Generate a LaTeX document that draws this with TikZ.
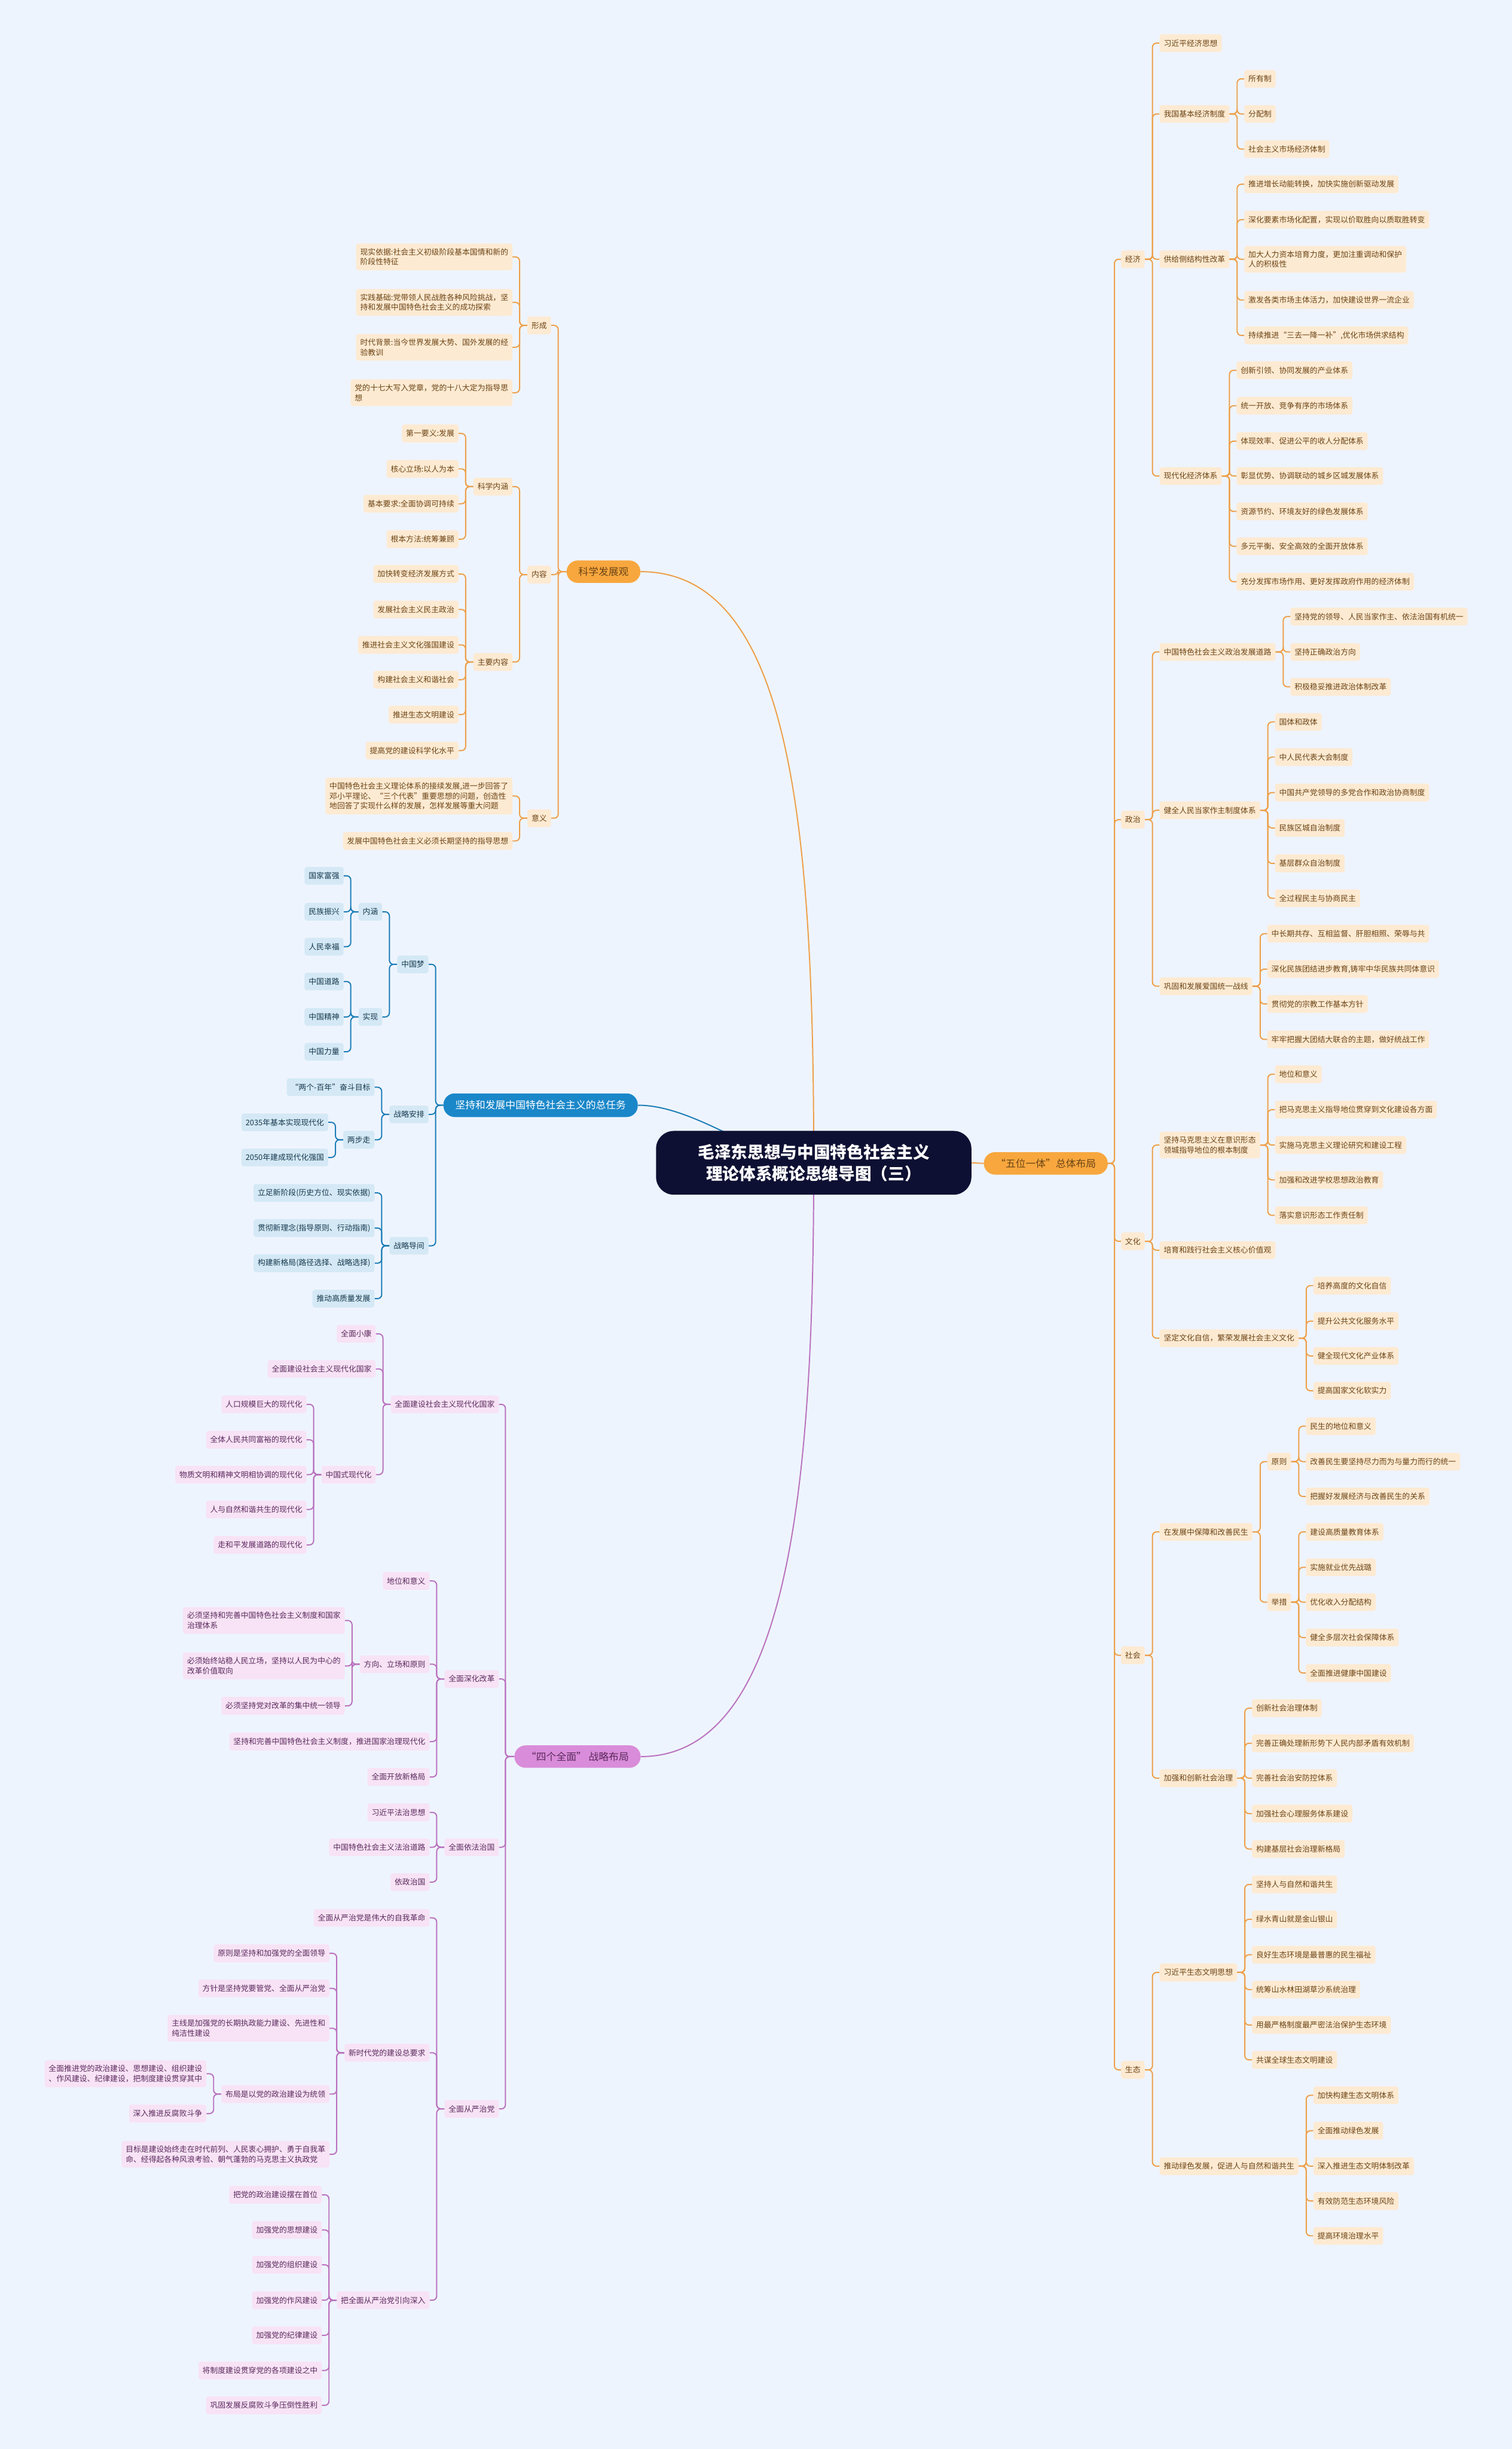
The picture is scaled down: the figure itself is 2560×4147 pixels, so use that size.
\documentclass[tikz,border=0pt]{standalone}
\usepackage{fontspec}
\setmainfont{Noto Sans CJK SC}
\usetikzlibrary{positioning}

\definecolor{bgcol}{HTML}{EEF4FE}
\definecolor{orgline}{HTML}{EDA04A}
\definecolor{orgfill}{HTML}{FDEAD2}
\definecolor{orgtext}{HTML}{6B4415}
\definecolor{orgmain}{HTML}{F8A73E}
\definecolor{blueline}{HTML}{1C7DB6}
\definecolor{bluefill}{HTML}{D4E9F5}
\definecolor{bluetext}{HTML}{17384E}
\definecolor{bluemain}{HTML}{1A87C9}
\definecolor{purline}{HTML}{BA72BE}
\definecolor{purfill}{HTML}{F7E3F5}
\definecolor{purtext}{HTML}{5B2A5E}
\definecolor{purmain}{HTML}{D98CD9}
\definecolor{titlecol}{HTML}{0E1033}

\pgfdeclarelayer{bg}
\pgfsetlayers{bg,main}

\begin{document}
\begin{tikzpicture}[x=1pt,y=-1pt]
	\tikzset{leaf/.style = {rounded corners=4pt, inner xsep=7pt, inner ysep=8pt, minimum height=30pt, align=left, font=\fontsize{13}{17}\selectfont}}
	\tikzset{oleaf/.style = {leaf, fill=orgfill, text=orgtext}}
	\tikzset{bleaf/.style = {leaf, fill=bluefill, text=bluetext}}
	\tikzset{pleaf/.style = {leaf, fill=purfill, text=purtext}}
	\tikzset{topic/.style = {rounded corners=19pt, inner xsep=20pt, minimum height=38pt, font=\fontsize{17}{20}\selectfont}}
	\tikzset{olink/.style = {draw=orgline, line width=2pt, rounded corners=7pt}}
	\tikzset{blink/.style = {draw=blueline, line width=2pt, rounded corners=7pt}}
	\tikzset{plink/.style = {draw=purline, line width=2pt, rounded corners=7pt}}

	\useasboundingbox (0,0) rectangle (2560,4147);

	\node[fill=titlecol, text=white, rounded corners=30pt, minimum width=534pt, minimum height=108pt, align=center, font=\fontsize{28}{37}\selectfont\bfseries] (title) at (1378,1969) {毛泽东思想与中国特色社会主义\\理论体系概论思维导图（三）};

	\node[topic, fill=orgmain, text=orgtext] (wt) at (1771,1970) {“五位一体”总体布局};
	\node[topic, fill=orgmain, text=orgtext] (ks) at (1022,968) {科学发展观};
	\node[topic, fill=bluemain, text=white, minimum height=40pt] (zr) at (915.5,1871.5) {坚持和发展中国特色社会主义的总任务};
	\node[topic, fill=purmain, text=purtext] (sq) at (978,2974.5) {“四个全面” 战略布局};

	% five-in-one
	\node[oleaf, right=22pt of wt, yshift=1531pt] (jj) {经济};
	\node[oleaf, right=22pt of wt, yshift=582pt] (zz) {政治};
	\node[oleaf, right=22pt of wt, yshift=-132pt] (wh) {文化};
	\node[oleaf, right=22pt of wt, yshift=-833pt] (sh) {社会};
	\node[oleaf, right=22pt of wt, yshift=-1535pt] (st) {生态};

	\node[oleaf, right=25pt of jj, yshift=366pt] (jj_1) {习近平经济思想};
	\node[oleaf, right=25pt of jj, yshift=246pt] (jj_2) {我国基本经济制度};
	\node[oleaf, right=25pt of jj] (jj_3) {供给侧结构性改革};
	\node[oleaf, right=25pt of jj, yshift=-367pt] (jj_4) {现代化经济体系};

	\node[oleaf, right=25pt of jj_2, yshift=59.5pt] (jj_2_1) {所有制};
	\node[oleaf, right=25pt of jj_2] (jj_2_2) {分配制};
	\node[oleaf, right=25pt of jj_2, yshift=-59.5pt] (jj_2_3) {社会主义市场经济体制};

	\node[oleaf, right=25pt of jj_3, yshift=127pt] (jj_3_1) {推进增长动能转换，加快实施创新驱动发展};
	\node[oleaf, right=25pt of jj_3, yshift=67pt] (jj_3_2) {深化要素市场化配置，实现以价取胜向以质取胜转变};
	\node[oleaf, right=25pt of jj_3] (jj_3_3) {加大人力资本培育力度，更加注重调动和保护\\人的积极性};
	\node[oleaf, right=25pt of jj_3, yshift=-69pt] (jj_3_4) {激发各类市场主体活力，加快建设世界一流企业};
	\node[oleaf, right=25pt of jj_3, yshift=-129pt] (jj_3_5) {持续推进“三去一降一补”,优化市场供求结构};

	\node[oleaf, right=25pt of jj_4, yshift=179pt] (jj_4_1) {创新引领、协同发展的产业体系};
	\node[oleaf, right=25pt of jj_4, yshift=119pt] (jj_4_2) {统一开放、竞争有序的市场体系};
	\node[oleaf, right=25pt of jj_4, yshift=59pt] (jj_4_3) {体现效率、促进公平的收人分配体系};
	\node[oleaf, right=25pt of jj_4] (jj_4_4) {彰显优势、协调联动的城乡区城发展体系};
	\node[oleaf, right=25pt of jj_4, yshift=-60pt] (jj_4_5) {资源节约、环境友好的绿色发展体系};
	\node[oleaf, right=25pt of jj_4, yshift=-119pt] (jj_4_6) {多元平衡、安全高效的全面开放体系};
	\node[oleaf, right=25pt of jj_4, yshift=-179pt] (jj_4_7) {充分发挥市场作用、更好发挥政府作用的经济体制};

	\node[oleaf, right=25pt of zz, yshift=284pt] (zz_1) {中国特色社会主义政治发展道路};
	\node[oleaf, right=25pt of zz, yshift=16pt] (zz_2) {健全人民当家作主制度体系};
	\node[oleaf, right=25pt of zz, yshift=-282pt] (zz_3) {巩固和发展爱国统一战线};

	\node[oleaf, right=25pt of zz_1, yshift=60pt] (zz_1_1) {坚持党的领导、人民当家作主、依法治国有机统一};
	\node[oleaf, right=25pt of zz_1] (zz_1_2) {坚持正确政治方向};
	\node[oleaf, right=25pt of zz_1, yshift=-59pt] (zz_1_3) {积极稳妥推进政治体制改革};

	\node[oleaf, right=25pt of zz_2, yshift=149.5pt] (zz_2_1) {国体和政体};
	\node[oleaf, right=25pt of zz_2, yshift=90pt] (zz_2_2) {中人民代表大会制度};
	\node[oleaf, right=25pt of zz_2, yshift=30pt] (zz_2_3) {中国共产党领导的多党合作和政治协商制度};
	\node[oleaf, right=25pt of zz_2, yshift=-30pt] (zz_2_4) {民族区城自治制度};
	\node[oleaf, right=25pt of zz_2, yshift=-90pt] (zz_2_5) {基层群众自治制度};
	\node[oleaf, right=25pt of zz_2, yshift=-149pt] (zz_2_6) {全过程民主与协商民主};

	\node[oleaf, right=25pt of zz_3, yshift=89pt] (zz_3_1) {中长期共存、互相监督、肝胆相照、荣辱与共};
	\node[oleaf, right=25pt of zz_3, yshift=29pt] (zz_3_2) {深化民族团结进步教育,铸牢中华民族共同体意识};
	\node[oleaf, right=25pt of zz_3, yshift=-30pt] (zz_3_3) {贯彻党的宗教工作基本方针};
	\node[oleaf, right=25pt of zz_3, yshift=-90pt] (zz_3_4) {牢牢把握大团结大联合的主题，做好统战工作};

	\node[oleaf, right=25pt of wh, yshift=163pt] (wh_1) {坚持马克思主义在意识形态\\领城指导地位的根本制度};
	\node[oleaf, right=25pt of wh, yshift=-15pt] (wh_2) {培育和践行社会主义核心价值观};
	\node[oleaf, right=25pt of wh, yshift=-164pt] (wh_3) {坚定文化自信，繁荣发展社会主义文化};

	\node[oleaf, right=25pt of wh_1, yshift=120pt] (wh_1_1) {地位和意义};
	\node[oleaf, right=25pt of wh_1, yshift=60pt] (wh_1_2) {把马克思主义指导地位贯穿到文化建设各方面};
	\node[oleaf, right=25pt of wh_1] (wh_1_3) {实施马克思主义理论研究和建设工程};
	\node[oleaf, right=25pt of wh_1, yshift=-59pt] (wh_1_4) {加强和改进学校思想政治教育};
	\node[oleaf, right=25pt of wh_1, yshift=-119pt] (wh_1_5) {落实意识形态工作责任制};

	\node[oleaf, right=25pt of wh_3, yshift=89pt] (wh_3_1) {培养高度的文化自信};
	\node[oleaf, right=25pt of wh_3, yshift=29pt] (wh_3_2) {提升公共文化服务水平};
	\node[oleaf, right=25pt of wh_3, yshift=-30pt] (wh_3_3) {健全现代文化产业体系};
	\node[oleaf, right=25pt of wh_3, yshift=-89pt] (wh_3_4) {提高国家文化软实力};

	\node[oleaf, right=25pt of sh, yshift=209pt] (sh_1) {在发展中保障和改善民生};
	\node[oleaf, right=25pt of sh, yshift=-208pt] (sh_2) {加强和创新社会治理};

	\node[oleaf, right=25pt of sh_1, yshift=119pt] (sh_1_1) {原则};
	\node[oleaf, right=25pt of sh_1, yshift=-119pt] (sh_1_2) {举措};

	\node[oleaf, right=25pt of sh_1_1, yshift=60pt] (sh_1_1_1) {民生的地位和意义};
	\node[oleaf, right=25pt of sh_1_1] (sh_1_1_2) {改善民生要坚持尽力而为与量力而行的统一};
	\node[oleaf, right=25pt of sh_1_1, yshift=-59pt] (sh_1_1_3) {把握好发展经济与改善民生的关系};

	\node[oleaf, right=25pt of sh_1_2, yshift=119pt] (sh_1_2_1) {建设高质量教育体系};
	\node[oleaf, right=25pt of sh_1_2, yshift=59pt] (sh_1_2_2) {实施就业优先战璐};
	\node[oleaf, right=25pt of sh_1_2] (sh_1_2_3) {优化收入分配结构};
	\node[oleaf, right=25pt of sh_1_2, yshift=-60pt] (sh_1_2_4) {健全多层次社会保障体系};
	\node[oleaf, right=25pt of sh_1_2, yshift=-120pt] (sh_1_2_5) {全面推进健康中国建设};

	\node[oleaf, right=25pt of sh_2, yshift=118.5pt] (sh_2_1) {创新社会治理体制};
	\node[oleaf, right=25pt of sh_2, yshift=59pt] (sh_2_2) {完善正确处理新形势下人民内部矛盾有效机制};
	\node[oleaf, right=25pt of sh_2] (sh_2_3) {完善社会治安防控体系};
	\node[oleaf, right=25pt of sh_2, yshift=-60pt] (sh_2_4) {加强社会心理服务体系建设};
	\node[oleaf, right=25pt of sh_2, yshift=-120pt] (sh_2_5) {构建基层社会治理新格局};

	\node[oleaf, right=25pt of st, yshift=165pt] (st_1) {习近平生态文明思想};
	\node[oleaf, right=25pt of st, yshift=-163pt] (st_2) {推动绿色发展，促进人与自然和谐共生};

	\node[oleaf, right=25pt of st_1, yshift=149pt] (st_1_1) {坚持人与自然和谐共生};
	\node[oleaf, right=25pt of st_1, yshift=90pt] (st_1_2) {绿水青山就是金山银山};
	\node[oleaf, right=25pt of st_1, yshift=30pt] (st_1_3) {良好生态环境是最普惠的民生福祉};
	\node[oleaf, right=25pt of st_1, yshift=-29pt] (st_1_4) {统筹山水林田湖草沙系统治理};
	\node[oleaf, right=25pt of st_1, yshift=-89pt] (st_1_5) {用最严格制度最严密法治保护生态环境};
	\node[oleaf, right=25pt of st_1, yshift=-148pt] (st_1_6) {共谋全球生态文明建设};

	\node[oleaf, right=25pt of st_2, yshift=120pt] (st_2_1) {加快构建生态文明体系};
	\node[oleaf, right=25pt of st_2, yshift=60pt] (st_2_2) {全面推动绿色发展};
	\node[oleaf, right=25pt of st_2] (st_2_3) {深入推进生态文明体制改革};
	\node[oleaf, right=25pt of st_2, yshift=-59pt] (st_2_4) {有效防范生态环境风险};
	\node[oleaf, right=25pt of st_2, yshift=-118pt] (st_2_5) {提高环境治理水平};

	% scientific outlook
	\node[oleaf, left=26pt of ks, yshift=417pt] (xc) {形成};
	\node[oleaf, left=26pt of ks, yshift=-5pt] (nr) {内容};
	\node[oleaf, left=26pt of ks, yshift=-417.5pt] (yy) {意义};

	\node[oleaf, left=25pt of xc, yshift=116pt] (xc_1) {现实依据:社会主义初级阶段基本国情和新的\\阶段性特征};
	\node[oleaf, left=25pt of xc, yshift=39pt] (xc_2) {实践基础:党带领人民战胜各种风险挑战，坚\\持和发展中国特色社会主义的成功探索};
	\node[oleaf, left=25pt of xc, yshift=-37pt] (xc_3) {时代背景:当今世界发展大势、国外发展的经\\验教训};
	\node[oleaf, left=25pt of xc, yshift=-114pt] (xc_4) {党的十七大写入党章，党的十八大定为指导思\\想};

	\node[oleaf, left=25pt of nr, yshift=149pt] (nr_1) {科学内涵};
	\node[oleaf, left=25pt of nr, yshift=-148pt] (nr_2) {主要内容};

	\node[oleaf, left=25pt of nr_1, yshift=90pt] (nr_1_1) {第一要义:发展};
	\node[oleaf, left=25pt of nr_1, yshift=30pt] (nr_1_2) {核心立场:以人为本};
	\node[oleaf, left=25pt of nr_1, yshift=-29pt] (nr_1_3) {基本要求:全面协调可持续};
	\node[oleaf, left=25pt of nr_1, yshift=-89pt] (nr_1_4) {根本方法:统筹兼顾};

	\node[oleaf, left=25pt of nr_2, yshift=149pt] (nr_2_1) {加快转变经济发展方式};
	\node[oleaf, left=25pt of nr_2, yshift=89pt] (nr_2_2) {发展社会主义民主政治};
	\node[oleaf, left=25pt of nr_2, yshift=29pt] (nr_2_3) {推进社会主义文化强国建设};
	\node[oleaf, left=25pt of nr_2, yshift=-30pt] (nr_2_4) {构建社会主义和谐社会};
	\node[oleaf, left=25pt of nr_2, yshift=-89pt] (nr_2_5) {推进生态文明建设};
	\node[oleaf, left=25pt of nr_2, yshift=-150pt] (nr_2_6) {提高党的建设科学化水平};

	\node[oleaf, left=25pt of yy, yshift=37.5pt] (yy_1) {中国特色社会主义理论体系的接续发展,进一步回答了\\邓小平理论、“三个代表”重要思想的问题，创造性\\地回答了实现什么样的发展，怎样发展等重大问题};
	\node[oleaf, left=25pt of yy, yshift=-38.5pt] (yy_2) {发展中国特色社会主义必须长期坚持的指导思想};

	% general task
	\node[bleaf, left=25pt of zr, yshift=238.5pt] (zm) {中国梦};
	\node[bleaf, left=25pt of zr, yshift=-15.5pt] (za) {战略安排};
	\node[bleaf, left=25pt of zr, yshift=-238pt] (zd) {战略导间};

	\node[bleaf, left=25pt of zm, yshift=89pt] (zm_1) {内涵};
	\node[bleaf, left=25pt of zm, yshift=-89pt] (zm_2) {实现};

	\node[bleaf, left=25pt of zm_1, yshift=61pt] (zm_1_1) {国家富强};
	\node[bleaf, left=25pt of zm_1] (zm_1_2) {民族振兴};
	\node[bleaf, left=25pt of zm_1, yshift=-59pt] (zm_1_3) {人民幸福};

	\node[bleaf, left=25pt of zm_2, yshift=60pt] (zm_2_1) {中国道路};
	\node[bleaf, left=25pt of zm_2] (zm_2_2) {中国精神};
	\node[bleaf, left=25pt of zm_2, yshift=-59pt] (zm_2_3) {中国力量};

	\node[bleaf, left=25pt of za, yshift=46pt] (za_1) {“两个-百年”奋斗目标};
	\node[bleaf, left=25pt of za, yshift=-43pt] (za_2) {两步走};

	\node[bleaf, left=25pt of za_2, yshift=29.5pt] (za_2_1) {2035年基本实现现代化};
	\node[bleaf, left=25pt of za_2, yshift=-30pt] (za_2_2) {2050年建成现代化强国};

	\node[bleaf, left=25pt of zd, yshift=89.5pt] (zd_1) {立足新阶段(历史方位、现实依据)};
	\node[bleaf, left=25pt of zd, yshift=30pt] (zd_2) {贯彻新理念(指导原则、行动指南)};
	\node[bleaf, left=25pt of zd, yshift=-29.5pt] (zd_3) {构建新格局(路径选择、战略选择)};
	\node[bleaf, left=25pt of zd, yshift=-89.5pt] (zd_4) {推动高质量发展};

	% four comprehensives
	\node[pleaf, left=26pt of sq, yshift=596.5pt] (qj) {全面建设社会主义现代化国家};
	\node[pleaf, left=26pt of sq, yshift=131.5pt] (qs) {全面深化改革};
	\node[pleaf, left=26pt of sq, yshift=-153.5pt] (qf) {全面依法治国};
	\node[pleaf, left=26pt of sq, yshift=-596.5pt] (qy) {全面从严治党};

	\node[pleaf, left=25pt of qj, yshift=119.4pt] (qj_1) {全面小康};
	\node[pleaf, left=25pt of qj, yshift=60pt] (qj_2) {全面建设社会主义现代化国家};
	\node[pleaf, left=25pt of qj, yshift=-119pt] (qj_3) {中国式现代化};

	\node[pleaf, left=25pt of qj_3, yshift=119pt] (qj_3_1) {人口规模巨大的现代化};
	\node[pleaf, left=25pt of qj_3, yshift=59pt] (qj_3_2) {全体人民共同富裕的现代化};
	\node[pleaf, left=25pt of qj_3] (qj_3_3) {物质文明和精神文明相协调的现代化};
	\node[pleaf, left=25pt of qj_3, yshift=-59pt] (qj_3_4) {人与自然和谐共生的现代化};
	\node[pleaf, left=25pt of qj_3, yshift=-119pt] (qj_3_5) {走和平发展道路的现代化};

	\node[pleaf, left=25pt of qs, yshift=166pt] (qs_1) {地位和意义};
	\node[pleaf, left=25pt of qs, yshift=25pt] (qs_2) {方向、立场和原则};
	\node[pleaf, left=25pt of qs, yshift=-106pt] (qs_3) {坚持和完善中国特色社会主义制度，推进国家治理现代化};
	\node[pleaf, left=25pt of qs, yshift=-166pt] (qs_4) {全面开放新格局};

	\node[pleaf, left=25pt of qs_2, yshift=74pt] (qs_2_1) {必须坚持和完善中国特色社会主义制度和国家\\治理体系};
	\node[pleaf, left=25pt of qs_2, yshift=-3pt] (qs_2_2) {必须始终站稳人民立场，坚持以人民为中心的\\改革价值取向};
	\node[pleaf, left=25pt of qs_2, yshift=-70.5pt] (qs_2_3) {必须坚持党对改革的集中统一领导};

	\node[pleaf, left=25pt of qf, yshift=59pt] (qf_1) {习近平法治思想};
	\node[pleaf, left=25pt of qf] (qf_2) {中国特色社会主义法治道路};
	\node[pleaf, left=25pt of qf, yshift=-59pt] (qf_3) {依政治国};

	\node[pleaf, left=25pt of qy, yshift=323.5pt] (qy_1) {全面从严治党是伟大的自我革命};
	\node[pleaf, left=25pt of qy, yshift=95pt] (qy_2) {新时代党的建设总要求};
	\node[pleaf, left=25pt of qy, yshift=-324pt] (qy_3) {把全面从严治党引向深入};

	\node[pleaf, left=25pt of qy_2, yshift=168.4pt] (qy_2_1) {原则是坚持和加强党的全面领导};
	\node[pleaf, left=25pt of qy_2, yshift=109pt] (qy_2_2) {方针是坚持党要管党、全面从严治党};
	\node[pleaf, left=25pt of qy_2, yshift=41.5pt] (qy_2_3) {主线是加强党的长期执政能力建设、先进性和\\纯洁性建设};
	\node[pleaf, left=25pt of qy_2, yshift=-70pt] (qy_2_4) {布局是以党的政治建设为统领};
	\node[pleaf, left=25pt of qy_2, yshift=-172pt] (qy_2_5) {目标是建设始终走在时代前列、人民衷心拥护、勇于自我革\\命、经得起各种风浪考验、朝气蓬勃的马克思主义执政党};

	\node[pleaf, left=25pt of qy_2_4, yshift=34.5pt] (qy_2_4_1) {全面推进党的政治建设、思想建设、组织建设\\、作风建设、纪律建设，把制度建设贯穿其中};
	\node[pleaf, left=25pt of qy_2_4, yshift=-33pt] (qy_2_4_2) {深入推进反腐败斗争};

	\node[pleaf, left=25pt of qy_3, yshift=178.5pt] (qy_3_1) {把党的政治建设摆在首位};
	\node[pleaf, left=25pt of qy_3, yshift=119pt] (qy_3_2) {加强党的思想建设};
	\node[pleaf, left=25pt of qy_3, yshift=60pt] (qy_3_3) {加强党的组织建设};
	\node[pleaf, left=25pt of qy_3] (qy_3_4) {加强党的作风建设};
	\node[pleaf, left=25pt of qy_3, yshift=-59.5pt] (qy_3_5) {加强党的纪律建设};
	\node[pleaf, left=25pt of qy_3, yshift=-119pt] (qy_3_6) {将制度建设贯穿党的各项建设之中};
	\node[pleaf, left=25pt of qy_3, yshift=-178pt] (qy_3_7) {巩固发展反腐败斗争压倒性胜利};

	\begin{pgfonlayer}{bg}
	\fill[bgcol] (0,0) rectangle (2560,4147);

	\draw[olink] (title.east) -- (wt.west);
	\draw[olink] (ks.east) .. controls (1340,968) and (1378,1400) .. (title.center);
	\draw[blink] (zr.east) .. controls (1180,1871.5) and (1290,1969) .. (title.center);
	\draw[plink] (sq.east) .. controls (1340,2974.5) and (1378,2500) .. (title.center);

	\draw[olink] (wt.east) -- ++(11pt,0) |- (jj.west);
	\draw[olink] (wt.east) -- ++(11pt,0) |- (zz.west);
	\draw[olink] (wt.east) -- ++(11pt,0) |- (wh.west);
	\draw[olink] (wt.east) -- ++(11pt,0) |- (sh.west);
	\draw[olink] (wt.east) -- ++(11pt,0) |- (st.west);

	\draw[olink] (jj.east) -- ++(13pt,0) |- (jj_1.west);
	\draw[olink] (jj.east) -- ++(13pt,0) |- (jj_2.west);
	\draw[olink] (jj.east) -- ++(13pt,0) |- (jj_3.west);
	\draw[olink] (jj.east) -- ++(13pt,0) |- (jj_4.west);
	\draw[olink] (jj_2.east) -- ++(13pt,0) |- (jj_2_1.west);
	\draw[olink] (jj_2.east) -- ++(13pt,0) |- (jj_2_2.west);
	\draw[olink] (jj_2.east) -- ++(13pt,0) |- (jj_2_3.west);
	\draw[olink] (jj_3.east) -- ++(13pt,0) |- (jj_3_1.west);
	\draw[olink] (jj_3.east) -- ++(13pt,0) |- (jj_3_2.west);
	\draw[olink] (jj_3.east) -- ++(13pt,0) |- (jj_3_3.west);
	\draw[olink] (jj_3.east) -- ++(13pt,0) |- (jj_3_4.west);
	\draw[olink] (jj_3.east) -- ++(13pt,0) |- (jj_3_5.west);
	\draw[olink] (jj_4.east) -- ++(13pt,0) |- (jj_4_1.west);
	\draw[olink] (jj_4.east) -- ++(13pt,0) |- (jj_4_2.west);
	\draw[olink] (jj_4.east) -- ++(13pt,0) |- (jj_4_3.west);
	\draw[olink] (jj_4.east) -- ++(13pt,0) |- (jj_4_4.west);
	\draw[olink] (jj_4.east) -- ++(13pt,0) |- (jj_4_5.west);
	\draw[olink] (jj_4.east) -- ++(13pt,0) |- (jj_4_6.west);
	\draw[olink] (jj_4.east) -- ++(13pt,0) |- (jj_4_7.west);

	\draw[olink] (zz.east) -- ++(13pt,0) |- (zz_1.west);
	\draw[olink] (zz.east) -- ++(13pt,0) |- (zz_2.west);
	\draw[olink] (zz.east) -- ++(13pt,0) |- (zz_3.west);
	\draw[olink] (zz_1.east) -- ++(13pt,0) |- (zz_1_1.west);
	\draw[olink] (zz_1.east) -- ++(13pt,0) |- (zz_1_2.west);
	\draw[olink] (zz_1.east) -- ++(13pt,0) |- (zz_1_3.west);
	\draw[olink] (zz_2.east) -- ++(13pt,0) |- (zz_2_1.west);
	\draw[olink] (zz_2.east) -- ++(13pt,0) |- (zz_2_2.west);
	\draw[olink] (zz_2.east) -- ++(13pt,0) |- (zz_2_3.west);
	\draw[olink] (zz_2.east) -- ++(13pt,0) |- (zz_2_4.west);
	\draw[olink] (zz_2.east) -- ++(13pt,0) |- (zz_2_5.west);
	\draw[olink] (zz_2.east) -- ++(13pt,0) |- (zz_2_6.west);
	\draw[olink] (zz_3.east) -- ++(13pt,0) |- (zz_3_1.west);
	\draw[olink] (zz_3.east) -- ++(13pt,0) |- (zz_3_2.west);
	\draw[olink] (zz_3.east) -- ++(13pt,0) |- (zz_3_3.west);
	\draw[olink] (zz_3.east) -- ++(13pt,0) |- (zz_3_4.west);

	\draw[olink] (wh.east) -- ++(13pt,0) |- (wh_1.west);
	\draw[olink] (wh.east) -- ++(13pt,0) |- (wh_2.west);
	\draw[olink] (wh.east) -- ++(13pt,0) |- (wh_3.west);
	\draw[olink] (wh_1.east) -- ++(13pt,0) |- (wh_1_1.west);
	\draw[olink] (wh_1.east) -- ++(13pt,0) |- (wh_1_2.west);
	\draw[olink] (wh_1.east) -- ++(13pt,0) |- (wh_1_3.west);
	\draw[olink] (wh_1.east) -- ++(13pt,0) |- (wh_1_4.west);
	\draw[olink] (wh_1.east) -- ++(13pt,0) |- (wh_1_5.west);
	\draw[olink] (wh_3.east) -- ++(13pt,0) |- (wh_3_1.west);
	\draw[olink] (wh_3.east) -- ++(13pt,0) |- (wh_3_2.west);
	\draw[olink] (wh_3.east) -- ++(13pt,0) |- (wh_3_3.west);
	\draw[olink] (wh_3.east) -- ++(13pt,0) |- (wh_3_4.west);

	\draw[olink] (sh.east) -- ++(13pt,0) |- (sh_1.west);
	\draw[olink] (sh.east) -- ++(13pt,0) |- (sh_2.west);
	\draw[olink] (sh_1.east) -- ++(13pt,0) |- (sh_1_1.west);
	\draw[olink] (sh_1.east) -- ++(13pt,0) |- (sh_1_2.west);
	\draw[olink] (sh_1_1.east) -- ++(13pt,0) |- (sh_1_1_1.west);
	\draw[olink] (sh_1_1.east) -- ++(13pt,0) |- (sh_1_1_2.west);
	\draw[olink] (sh_1_1.east) -- ++(13pt,0) |- (sh_1_1_3.west);
	\draw[olink] (sh_1_2.east) -- ++(13pt,0) |- (sh_1_2_1.west);
	\draw[olink] (sh_1_2.east) -- ++(13pt,0) |- (sh_1_2_2.west);
	\draw[olink] (sh_1_2.east) -- ++(13pt,0) |- (sh_1_2_3.west);
	\draw[olink] (sh_1_2.east) -- ++(13pt,0) |- (sh_1_2_4.west);
	\draw[olink] (sh_1_2.east) -- ++(13pt,0) |- (sh_1_2_5.west);
	\draw[olink] (sh_2.east) -- ++(13pt,0) |- (sh_2_1.west);
	\draw[olink] (sh_2.east) -- ++(13pt,0) |- (sh_2_2.west);
	\draw[olink] (sh_2.east) -- ++(13pt,0) |- (sh_2_3.west);
	\draw[olink] (sh_2.east) -- ++(13pt,0) |- (sh_2_4.west);
	\draw[olink] (sh_2.east) -- ++(13pt,0) |- (sh_2_5.west);

	\draw[olink] (st.east) -- ++(13pt,0) |- (st_1.west);
	\draw[olink] (st.east) -- ++(13pt,0) |- (st_2.west);
	\draw[olink] (st_1.east) -- ++(13pt,0) |- (st_1_1.west);
	\draw[olink] (st_1.east) -- ++(13pt,0) |- (st_1_2.west);
	\draw[olink] (st_1.east) -- ++(13pt,0) |- (st_1_3.west);
	\draw[olink] (st_1.east) -- ++(13pt,0) |- (st_1_4.west);
	\draw[olink] (st_1.east) -- ++(13pt,0) |- (st_1_5.west);
	\draw[olink] (st_1.east) -- ++(13pt,0) |- (st_1_6.west);
	\draw[olink] (st_2.east) -- ++(13pt,0) |- (st_2_1.west);
	\draw[olink] (st_2.east) -- ++(13pt,0) |- (st_2_2.west);
	\draw[olink] (st_2.east) -- ++(13pt,0) |- (st_2_3.west);
	\draw[olink] (st_2.east) -- ++(13pt,0) |- (st_2_4.west);
	\draw[olink] (st_2.east) -- ++(13pt,0) |- (st_2_5.west);

	\draw[olink] (ks.west) -- ++(-14pt,0) |- (xc.east);
	\draw[olink] (ks.west) -- ++(-14pt,0) |- (nr.east);
	\draw[olink] (ks.west) -- ++(-14pt,0) |- (yy.east);
	\draw[olink] (xc.west) -- ++(-13pt,0) |- (xc_1.east);
	\draw[olink] (xc.west) -- ++(-13pt,0) |- (xc_2.east);
	\draw[olink] (xc.west) -- ++(-13pt,0) |- (xc_3.east);
	\draw[olink] (xc.west) -- ++(-13pt,0) |- (xc_4.east);
	\draw[olink] (nr.west) -- ++(-13pt,0) |- (nr_1.east);
	\draw[olink] (nr.west) -- ++(-13pt,0) |- (nr_2.east);
	\draw[olink] (nr_1.west) -- ++(-13pt,0) |- (nr_1_1.east);
	\draw[olink] (nr_1.west) -- ++(-13pt,0) |- (nr_1_2.east);
	\draw[olink] (nr_1.west) -- ++(-13pt,0) |- (nr_1_3.east);
	\draw[olink] (nr_1.west) -- ++(-13pt,0) |- (nr_1_4.east);
	\draw[olink] (nr_2.west) -- ++(-13pt,0) |- (nr_2_1.east);
	\draw[olink] (nr_2.west) -- ++(-13pt,0) |- (nr_2_2.east);
	\draw[olink] (nr_2.west) -- ++(-13pt,0) |- (nr_2_3.east);
	\draw[olink] (nr_2.west) -- ++(-13pt,0) |- (nr_2_4.east);
	\draw[olink] (nr_2.west) -- ++(-13pt,0) |- (nr_2_5.east);
	\draw[olink] (nr_2.west) -- ++(-13pt,0) |- (nr_2_6.east);
	\draw[olink] (yy.west) -- ++(-13pt,0) |- (yy_1.east);
	\draw[olink] (yy.west) -- ++(-13pt,0) |- (yy_2.east);

	\draw[blink] (zr.west) -- ++(-13pt,0) |- (zm.east);
	\draw[blink] (zr.west) -- ++(-13pt,0) |- (za.east);
	\draw[blink] (zr.west) -- ++(-13pt,0) |- (zd.east);
	\draw[blink] (zm.west) -- ++(-13pt,0) |- (zm_1.east);
	\draw[blink] (zm.west) -- ++(-13pt,0) |- (zm_2.east);
	\draw[blink] (zm_1.west) -- ++(-13pt,0) |- (zm_1_1.east);
	\draw[blink] (zm_1.west) -- ++(-13pt,0) |- (zm_1_2.east);
	\draw[blink] (zm_1.west) -- ++(-13pt,0) |- (zm_1_3.east);
	\draw[blink] (zm_2.west) -- ++(-13pt,0) |- (zm_2_1.east);
	\draw[blink] (zm_2.west) -- ++(-13pt,0) |- (zm_2_2.east);
	\draw[blink] (zm_2.west) -- ++(-13pt,0) |- (zm_2_3.east);
	\draw[blink] (za.west) -- ++(-13pt,0) |- (za_1.east);
	\draw[blink] (za.west) -- ++(-13pt,0) |- (za_2.east);
	\draw[blink] (za_2.west) -- ++(-13pt,0) |- (za_2_1.east);
	\draw[blink] (za_2.west) -- ++(-13pt,0) |- (za_2_2.east);
	\draw[blink] (zd.west) -- ++(-13pt,0) |- (zd_1.east);
	\draw[blink] (zd.west) -- ++(-13pt,0) |- (zd_2.east);
	\draw[blink] (zd.west) -- ++(-13pt,0) |- (zd_3.east);
	\draw[blink] (zd.west) -- ++(-13pt,0) |- (zd_4.east);

	\draw[plink] (sq.west) -- ++(-15pt,0) |- (qj.east);
	\draw[plink] (sq.west) -- ++(-15pt,0) |- (qs.east);
	\draw[plink] (sq.west) -- ++(-15pt,0) |- (qf.east);
	\draw[plink] (sq.west) -- ++(-15pt,0) |- (qy.east);
	\draw[plink] (qj.west) -- ++(-13pt,0) |- (qj_1.east);
	\draw[plink] (qj.west) -- ++(-13pt,0) |- (qj_2.east);
	\draw[plink] (qj.west) -- ++(-13pt,0) |- (qj_3.east);
	\draw[plink] (qj_3.west) -- ++(-13pt,0) |- (qj_3_1.east);
	\draw[plink] (qj_3.west) -- ++(-13pt,0) |- (qj_3_2.east);
	\draw[plink] (qj_3.west) -- ++(-13pt,0) |- (qj_3_3.east);
	\draw[plink] (qj_3.west) -- ++(-13pt,0) |- (qj_3_4.east);
	\draw[plink] (qj_3.west) -- ++(-13pt,0) |- (qj_3_5.east);
	\draw[plink] (qs.west) -- ++(-13pt,0) |- (qs_1.east);
	\draw[plink] (qs.west) -- ++(-13pt,0) |- (qs_2.east);
	\draw[plink] (qs.west) -- ++(-13pt,0) |- (qs_3.east);
	\draw[plink] (qs.west) -- ++(-13pt,0) |- (qs_4.east);
	\draw[plink] (qs_2.west) -- ++(-13pt,0) |- (qs_2_1.east);
	\draw[plink] (qs_2.west) -- ++(-13pt,0) |- (qs_2_2.east);
	\draw[plink] (qs_2.west) -- ++(-13pt,0) |- (qs_2_3.east);
	\draw[plink] (qf.west) -- ++(-13pt,0) |- (qf_1.east);
	\draw[plink] (qf.west) -- ++(-13pt,0) |- (qf_2.east);
	\draw[plink] (qf.west) -- ++(-13pt,0) |- (qf_3.east);
	\draw[plink] (qy.west) -- ++(-13pt,0) |- (qy_1.east);
	\draw[plink] (qy.west) -- ++(-13pt,0) |- (qy_2.east);
	\draw[plink] (qy.west) -- ++(-13pt,0) |- (qy_3.east);
	\draw[plink] (qy_2.west) -- ++(-13pt,0) |- (qy_2_1.east);
	\draw[plink] (qy_2.west) -- ++(-13pt,0) |- (qy_2_2.east);
	\draw[plink] (qy_2.west) -- ++(-13pt,0) |- (qy_2_3.east);
	\draw[plink] (qy_2.west) -- ++(-13pt,0) |- (qy_2_4.east);
	\draw[plink] (qy_2.west) -- ++(-13pt,0) |- (qy_2_5.east);
	\draw[plink] (qy_2_4.west) -- ++(-13pt,0) |- (qy_2_4_1.east);
	\draw[plink] (qy_2_4.west) -- ++(-13pt,0) |- (qy_2_4_2.east);
	\draw[plink] (qy_3.west) -- ++(-13pt,0) |- (qy_3_1.east);
	\draw[plink] (qy_3.west) -- ++(-13pt,0) |- (qy_3_2.east);
	\draw[plink] (qy_3.west) -- ++(-13pt,0) |- (qy_3_3.east);
	\draw[plink] (qy_3.west) -- ++(-13pt,0) |- (qy_3_4.east);
	\draw[plink] (qy_3.west) -- ++(-13pt,0) |- (qy_3_5.east);
	\draw[plink] (qy_3.west) -- ++(-13pt,0) |- (qy_3_6.east);
	\draw[plink] (qy_3.west) -- ++(-13pt,0) |- (qy_3_7.east);
	\end{pgfonlayer}

\end{tikzpicture}
\end{document}
